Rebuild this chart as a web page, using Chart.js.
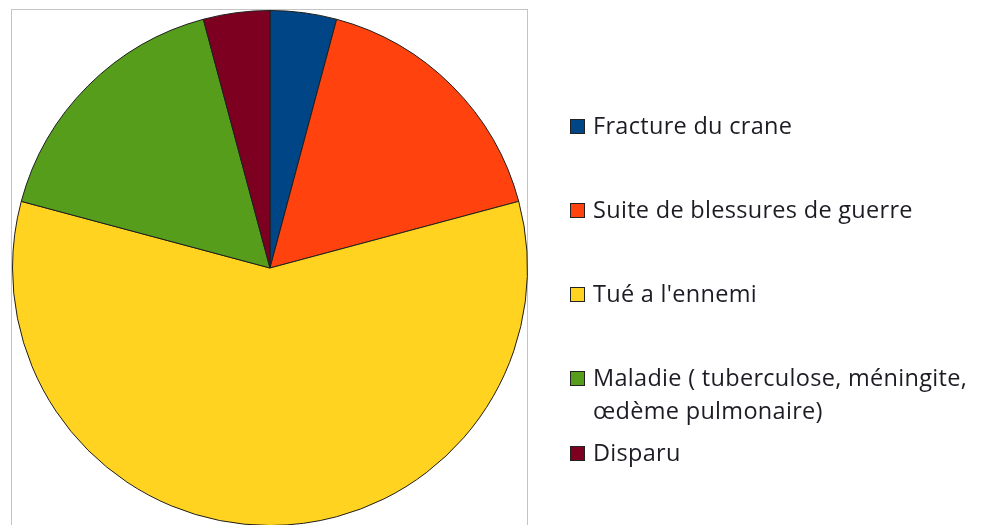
<!DOCTYPE html>
<html>
<head>
<meta charset="utf-8">
<script src="https://cdn.jsdelivr.net/npm/chart.js@4/dist/chart.umd.min.js"></script>
<style>
  html, body { margin: 0; padding: 0; background: #fff; overflow: hidden; }
  body { width: 985px; height: 525px; position: relative; }
  #frame {
    position: absolute; left: 11px; top: 9px; width: 517px; height: 540px;
    border: 1px solid #c4c4c4; box-sizing: border-box;
  }
  #pieBox { position: absolute; left: 12px; top: 10px; width: 516px; height: 516px; }
  #legend { position: absolute; left: 0; top: 0; width: 985px; height: 525px; pointer-events: none; }
  .item { position: absolute; left: 570px; font-family: 'Open Sans', sans-serif; font-size: 23.5px; letter-spacing: 0.3px; color: #1c1c24; }
  .box { position: absolute; left: 0; width: 13px; height: 13px; border: 1px solid #222; }
  .txt { position: absolute; left: 23px; white-space: nowrap; line-height: 33px; }
</style>
</head>
<body>
<div id="frame"></div>
<div id="pieBox"><canvas id="myChart"></canvas></div>
<div id="legend"></div>
<script>
// causes de deces
const labels = [
  'Fracture du crane',
  'Suite de blessures de guerre',
  "Tué a l'ennemi",
  ['Maladie ( tuberculose, méningite,', 'œdème pulmonaire)'],
  'Disparu',
];
const counts = [1, 4, 14, 4, 1];
const colors = ['#004586', '#ff420e', '#ffd320', '#579d1c', '#7e0021'];

// vertical centre of each legend entry (first line)
const legendRows = [126, 210, 294, 378, 453];

// Build an html legend from the chart's own legend items
const htmlLegend = {
  id: 'htmlLegend',
  afterUpdate(chart) {
    const el = document.getElementById('legend');
    el.innerHTML = '';
    const items = chart.options.plugins.legend.labels.generateLabels(chart);
    items.forEach((it, i) => {
      const row = document.createElement('div');
      row.className = 'item';
      row.style.top = legendRows[i] + 'px';

      const box = document.createElement('div');
      box.className = 'box';
      box.style.top = '-7px';
      box.style.background = it.fillStyle;
      row.appendChild(box);

      const txt = document.createElement('div');
      txt.className = 'txt';
      txt.style.top = '-17px';
      const lines = Array.isArray(it.text) ? it.text : [it.text];
      lines.forEach((l, j) => {
        if (j) txt.appendChild(document.createElement('br'));
        txt.appendChild(document.createTextNode(l));
      });
      row.appendChild(txt);
      el.appendChild(row);
    });
  },
};

window.onload = () => {
  const ctx = document.getElementById('myChart').getContext('2d');
  window.myChart = new Chart(ctx, {
    type: 'pie',
    data: {
      labels: labels,
      datasets: [{
        data: counts,
        backgroundColor: colors,
        borderColor: '#1e1e1e',
        borderWidth: 1,
      }],
    },
    options: {
      responsive: true,
      maintainAspectRatio: false,
      animation: false,
      layout: { padding: 0 },
      plugins: {
        legend: { display: false },
        tooltip: { enabled: false },
      },
    },
    plugins: [htmlLegend],
  });
};
</script>
</body>
</html>
